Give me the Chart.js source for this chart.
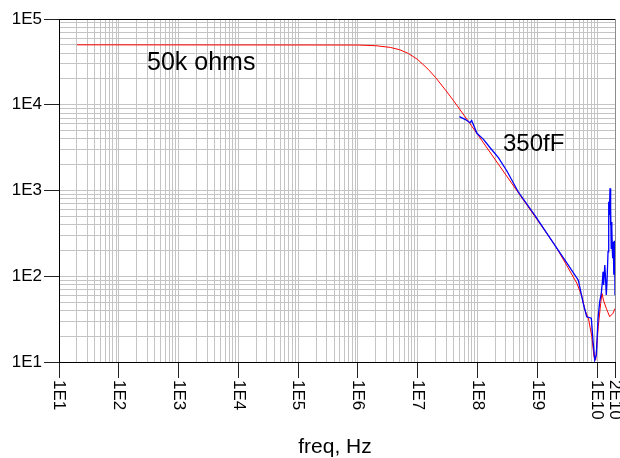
<!DOCTYPE html>
<html>
<head>
<meta charset="utf-8">
<script src="https://cdn.jsdelivr.net/npm/chart.js@4.4.0/dist/chart.umd.min.js"></script>
<style>
  html, body { margin: 0; padding: 0; background: #fff; }
</style>
</head>
<body>
<canvas id="zChart" width="620" height="458"></canvas>
<script>
// model curve: 50k ohms in parallel with 350fF (red)
const modelFreq = [2e1, 1e6, 2e6, 3.5e6, 5e6, 7e6, 1e7, 1.5e7, 2e7, 3e7, 4e7, 6e7, 1e8, 2e8, 5e8,
    1e9, 2e9, 3e9, 3.6e9, 4.6e9, 5.6e9, 6.3e9, 7.2e9, 8.2e9, 8.9e9, 9.5e9, 1.05e10, 1.15e10,
    1.21e10, 1.28e10, 1.43e10, 1.63e10, 1.85e10, 2e10];
const modelZ = [50000, 49700, 48800, 46600, 43800, 39600, 33700, 25900, 20700, 14500, 11100, 7500, 4530, 2270, 910,
    455, 228, 140, 112, 83, 58, 40, 32, 19.7, 11.5, 10.5, 25.8, 47.9,
    63.2, 52.8, 42.3, 33.7, 37, 42];

// measured curve (blue)
const measFreq = [4.99e7, 6.2e7, 7.5e7, 8.0e7, 9.8e7, 1.26e8, 1.63e8, 2.24e8, 3.09e8, 4.83e8, 9.2e8,
    1.99e9, 3.31e9, 4.87e9, 5.9e9, 6.73e9, 8.04e9, 8.59e9, 9.17e9, 9.75e9, 1.04e10, 1.11e10,
    1.18e10, 1.23e10, 1.26e10, 1.29e10, 1.35e10, 1.38e10, 1.43e10, 1.47e10, 1.53e10, 1.57e10,
    1.61e10, 1.65e10, 1.67e10, 1.69e10, 1.71e10, 1.73e10, 1.76e10, 1.78e10, 1.81e10, 1.83e10,
    1.87e10, 1.9e10, 1.92e10, 1.95e10, 1.98e10, 2e10];
const measZ = [7260, 6760, 6180, 6550, 4640, 3950, 3150, 2420, 1700, 960, 510,
    228, 135, 90, 48, 33.7, 32.4, 17.3, 10.5, 12.1, 32.4, 50.5,
    63.2, 86.3, 113, 79, 135, 104, 60.4, 86.3, 193, 740,
    518, 1060, 480, 396, 640, 212, 430, 362, 190, 162,
    253, 150, 104, 260, 177, 60];

const xTickValues = [1e1, 1e2, 1e3, 1e4, 1e5, 1e6, 1e7, 1e8, 1e9, 1e10, 2e10];
const xTickLabels = ['1E1', '1E2', '1E3', '1E4', '1E5', '1E6', '1E7', '1E8', '1E9', '1E10', '2E10'];
const yTickValues = [1e1, 1e2, 1e3, 1e4, 1e5];
const yTickLabels = ['1E1', '1E2', '1E3', '1E4', '1E5'];

const FONT = '"Liberation Sans", Arial, sans-serif';

// gridlines at 1..9 of every decade
function logGrid(min, max) {
    const out = [];
    for (let e = Math.floor(Math.log10(min)); e <= Math.ceil(Math.log10(max)); e++) {
        for (let m = 1; m < 10; m++) {
            const v = m * Math.pow(10, e);
            if (v >= min && v <= max) out.push({ value: v });
        }
    }
    return out;
}

function gridColor(edges) {
    return c => {
        const v = c.tick && c.tick.value;
        if (edges.includes(v)) return '#000';
        return '#c4c4c4';
    };
}

// rotated x labels, axis title and curve notes
const textPlugin = {
    id: 'texts',
    afterDraw(chart) {
        const { ctx, scales: { x, y } } = chart;
        ctx.save();
        ctx.fillStyle = '#000';
        ctx.font = '17px ' + FONT;
        ctx.textAlign = 'left';
        ctx.textBaseline = 'middle';
        xTickValues.forEach((v, i) => {
            ctx.save();
            ctx.translate(x.getPixelForValue(v), x.top + 18);
            ctx.rotate(Math.PI / 2);
            ctx.fillText(xTickLabels[i], 0, 0);
            ctx.restore();
        });

        ctx.textBaseline = 'alphabetic';
        ctx.textAlign = 'center';
        ctx.font = '21px ' + FONT;
        ctx.fillText('freq, Hz', (x.left + x.right) / 2 - 2, 453);

        ctx.textAlign = 'left';
        ctx.font = '25px ' + FONT;
        ctx.fillText('50k ohms', 147, 70);
        ctx.font = '24px ' + FONT;
        ctx.fillText('350fF', 503, 151);
        ctx.restore();
    }
};

const ctx = document.getElementById('zChart').getContext('2d');

new Chart(ctx, {
    type: 'line',
    data: {
        datasets: [{
            label: 'measured',
            data: measFreq.map((f, i) => ({ x: f, y: measZ[i] })),
            borderColor: '#0000ff',
            borderWidth: 1.3,
            pointRadius: 0,
            order: 0
        }, {
            label: 'model',
            data: modelFreq.map((f, i) => ({ x: f, y: modelZ[i] })),
            borderColor: '#ff0000',
            borderWidth: 1,
            pointRadius: 0,
            order: 1
        }]
    },
    options: {
        responsive: false,
        animation: false,
        layout: { padding: { top: 19, right: 5, left: 0, bottom: 0 } },
        plugins: { legend: { display: false }, tooltip: { enabled: false } },
        scales: {
            x: {
                type: 'logarithmic',
                min: 10,
                max: 2e10,
                afterBuildTicks: s => { s.ticks = logGrid(10, 2e10); },
                afterFit: s => { s.height = 96; },
                ticks: { display: false },
                grid: {
                    color: c => {
                        const v = c.tick && c.tick.value;
                        if (v === 1e1) return '#000';
                        if (v === 2e10) return '#8c8c8c';
                        return '#c4c4c4';
                    },
                    lineWidth: 1,
                    tickLength: 16,
                    tickWidth: 1,
                    tickColor: c => xTickValues.includes(c.tick && c.tick.value) ? '#222' : 'rgba(0,0,0,0)'
                },
                border: { color: '#000', width: 1 }
            },
            y: {
                type: 'logarithmic',
                min: 10,
                max: 1e5,
                afterBuildTicks: s => { s.ticks = logGrid(10, 1e5); },
                afterFit: s => { s.width = 59; },
                ticks: {
                    autoSkip: false,
                    padding: 2,
                    color: '#000',
                    font: { family: FONT, size: 17 },
                    callback: v => {
                        const i = yTickValues.indexOf(v);
                        return i >= 0 ? yTickLabels[i] : '';
                    }
                },
                grid: {
                    color: gridColor([1e1, 1e5]),
                    lineWidth: 1,
                    tickLength: 15,
                    tickWidth: 1,
                    tickColor: c => yTickValues.includes(c.tick && c.tick.value) ? '#222' : 'rgba(0,0,0,0)'
                },
                border: { color: '#000', width: 1 }
            }
        }
    },
    plugins: [textPlugin]
});
</script>
</body>
</html>
